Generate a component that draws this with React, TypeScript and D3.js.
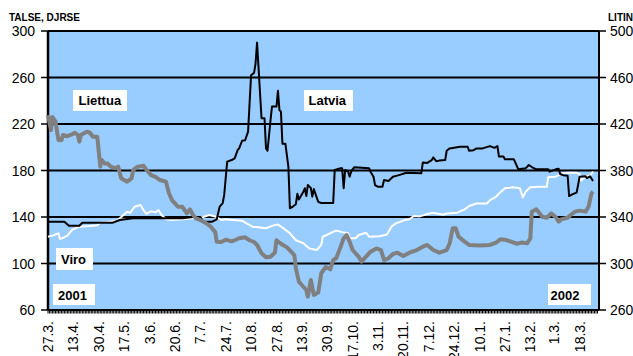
import React from "react";
import * as d3 from "d3";

const xTickLabels = ["27.3.2001","13.4.2001","30.4.2001","17.5.2001","3.6.2001","20.6.2001","7.7.2001","24.7.2001","10.8.2001","27.8.2001","13.9.2001","30.9.2001","17.10.2001","3.11.2001","20.11.2001","7.12.2001","24.12.2001","10.1.2002","27.1.2002","13.2.2002","1.3.2002","18.3.2002"];
const leftTicks = [60, 100, 140, 180, 220, 260, 300];
const rightTicks = [260, 300, 340, 380, 420, 460, 500];

// Latvia (DJRSE, left axis)
const latvia: [string, number][] = [
  ["2001-03-27",136],["2001-04-07",136],["2001-04-10",132.5],["2001-04-17",132.5],["2001-04-19",135],["2001-05-09",135],["2001-05-14",137.4],["2001-05-23",139],["2001-06-25",139],["2001-07-02",140],["2001-07-07",140],["2001-07-09",136],["2001-07-15",136],["2001-07-18",138],["2001-07-20",149],["2001-07-22",152],["2001-07-23",159],["2001-07-25",187.6],["2001-07-28",189],["2001-07-30",190.5],["2001-08-01",197.6],["2001-08-02",199],["2001-08-04",205.6],["2001-08-06",206],["2001-08-08",213.4],["2001-08-10",262],["2001-08-12",264],["2001-08-13",272],["2001-08-14",290],["2001-08-17",225],["2001-08-19",225],["2001-08-20",199],["2001-08-21",197],["2001-08-23",223],["2001-08-24",235],["2001-08-27",235],["2001-08-28",248.6],["2001-08-29",232],["2001-08-30",230.6],["2001-08-31",203],["2001-09-02",203],["2001-09-04",183],["2001-09-05",147.5],["2001-09-07",149],["2001-09-09",151],["2001-09-10",160],["2001-09-11",155],["2001-09-14",161.8],["2001-09-15",164.7],["2001-09-16",158],["2001-09-17",167.5],["2001-09-19",165],["2001-09-20",157.5],["2001-09-21",164],["2001-09-24",153],["2001-09-26",152],["2001-09-29",152],["2001-10-04",152],["2001-10-05",180.4],["2001-10-09",182],["2001-10-10",182],["2001-10-11",164.7],["2001-10-12",180.4],["2001-10-14",179],["2001-10-15",174.7],["2001-10-16",179],["2001-10-18",182.7],["2001-10-28",182],["2001-10-29",179],["2001-10-31",174.7],["2001-11-01",167.5],["2001-11-03",166],["2001-11-06",166],["2001-11-07",171.8],["2001-11-10",171],["2001-11-13",174.7],["2001-11-17",176],["2001-11-22",178],["2001-12-02",177.6],["2001-12-03",186.8],["2001-12-06",186.5],["2001-12-09",189],["2001-12-10",191.3],["2001-12-12",188],["2001-12-14",188.5],["2001-12-18",189],["2001-12-19",197],["2001-12-21",199],["2001-12-28",200.5],["2002-01-02",200.5],["2002-01-03",197],["2002-01-06",197.5],["2002-01-08",199],["2002-01-12",199],["2002-01-17",201],["2002-01-20",199.5],["2002-01-22",201],["2002-01-23",192],["2002-01-26",192],["2002-01-27",189.6],["2002-02-02",189.6],["2002-02-05",181],["2002-02-10",182],["2002-02-12",184.7],["2002-02-14",183],["2002-02-17",181],["2002-02-25",181],["2002-02-26",179],["2002-03-02",181],["2002-03-04",181.5],["2002-03-05",177],["2002-03-07",176],["2002-03-10",175.5],["2002-03-11",158],["2002-03-13",159.5],["2002-03-16",161],["2002-03-17",167.5],["2002-03-18",174.7],["2002-03-22",175],["2002-03-23",173.5],["2002-03-25",175],["2002-03-27",171]
];

// Viro (TALSE, left axis)
const viro: [string, number][] = [
  ["2001-03-27",123],["2001-03-30",124],["2001-04-03",126],["2001-04-04",121],["2001-04-06",122],["2001-04-09",124],["2001-04-12",128.8],["2001-04-14",130],["2001-04-17",131.7],["2001-04-22",132],["2001-04-29",133],["2001-05-01",135],["2001-05-05",135.5],["2001-05-12",136.8],["2001-05-15",140],["2001-05-19",144.6],["2001-05-21",143.5],["2001-05-24",148.8],["2001-05-28",150.3],["2001-05-30",145.9],["2001-06-01",142.6],["2001-06-04",145],["2001-06-07",144],["2001-06-09",146],["2001-06-11",141.7],["2001-06-14",138],["2001-06-18",137.4],["2001-06-25",138],["2001-07-02",139],["2001-07-09",140],["2001-07-13",141.7],["2001-07-18",140],["2001-07-21",137.4],["2001-07-24",138],["2001-07-29",137.4],["2001-08-04",136.8],["2001-08-07",134.6],["2001-08-11",131.7],["2001-08-16",131],["2001-08-20",130.3],["2001-08-25",132.8],["2001-08-28",133.5],["2001-09-01",130],["2001-09-05",126],["2001-09-09",120],["2001-09-14",117.4],["2001-09-18",113],["2001-09-23",111.6],["2001-09-26",116],["2001-09-27",123],["2001-10-02",126],["2001-10-06",128.3],["2001-10-10",127],["2001-10-14",126],["2001-10-15",121.7],["2001-10-19",121.7],["2001-10-21",124.5],["2001-10-26",126.5],["2001-10-28",123],["2001-11-04",123.5],["2001-11-09",125],["2001-11-12",131.7],["2001-11-15",134.5],["2001-11-21",137.4],["2001-11-24",138],["2001-11-27",140.9],["2001-12-01",140.5],["2001-12-06",142.6],["2001-12-10",143.7],["2001-12-17",142],["2001-12-19",143],["2001-12-26",143.7],["2001-12-31",146.6],["2002-01-03",149.5],["2002-01-08",151.6],["2002-01-15",151.6],["2002-01-17",154.6],["2002-01-21",157.4],["2002-01-23",160.2],["2002-01-27",164.7],["2002-02-01",165.5],["2002-02-06",164.7],["2002-02-08",156.9],["2002-02-10",162],["2002-02-13",165.6],["2002-02-19",166],["2002-02-24",166],["2002-02-25",174.2],["2002-03-02",174.7],["2002-03-04",176],["2002-03-06",177.6],["2002-03-11",178],["2002-03-16",178],["2002-03-18",177],["2002-03-19",171.3],["2002-03-22",174.7],["2002-03-25",175.5],["2002-03-27",179]
];

// Liettua (LITIN, right axis)
const liettua: [string, number][] = [
  ["2001-03-27",427.7],["2001-03-29",414.8],["2001-03-30",426],["2001-04-01",422],["2001-04-03",406.2],["2001-04-05",406],["2001-04-06",410.5],["2001-04-09",409.5],["2001-04-12",411],["2001-04-14",412.5],["2001-04-16",410.5],["2001-04-17",404.8],["2001-04-18",410.5],["2001-04-22",413.4],["2001-04-24",412.5],["2001-04-26",409],["2001-04-29",409],["2001-05-01",383.3],["2001-05-02",389],["2001-05-04",386],["2001-05-06",386],["2001-05-08",383.3],["2001-05-11",382],["2001-05-13",383.3],["2001-05-15",373.3],["2001-05-19",370.4],["2001-05-22",373.3],["2001-05-23",380.4],["2001-05-26",383.3],["2001-05-30",384],["2001-06-01",380.4],["2001-06-04",376],["2001-06-07",374.5],["2001-06-10",371.8],["2001-06-14",370.4],["2001-06-16",360.4],["2001-06-18",354.6],["2001-06-20",351.8],["2001-06-22",348.8],["2001-06-25",348.8],["2001-06-28",343.1],["2001-06-30",346.6],["2001-07-02",342],["2001-07-04",338.9],["2001-07-06",338],["2001-07-11",334.6],["2001-07-14",331.7],["2001-07-17",327],["2001-07-18",318.7],["2001-07-21",318.5],["2001-07-24",320.5],["2001-07-28",319],["2001-07-30",320],["2001-08-02",321.7],["2001-08-06",322.5],["2001-08-09",320],["2001-08-12",318.5],["2001-08-14",315.9],["2001-08-17",308.8],["2001-08-20",305.3],["2001-08-23",305.8],["2001-08-26",309.5],["2001-08-27",320],["2001-08-30",317],["2001-09-03",313.9],["2001-09-06",310],["2001-09-08",307],["2001-09-09",295.9],["2001-09-11",284.4],["2001-09-14",280],["2001-09-16",277.2],["2001-09-17",271.5],["2001-09-19",285.8],["2001-09-21",273],["2001-09-24",275],["2001-09-26",291.6],["2001-09-29",297],["2001-10-02",295],["2001-10-04",303],["2001-10-06",304.5],["2001-10-09",314.5],["2001-10-11",321.7],["2001-10-13",324.5],["2001-10-15",318.8],["2001-10-17",311.6],["2001-10-21",306],["2001-10-23",301.6],["2001-10-26",306],["2001-10-29",310.2],["2001-11-02",313],["2001-11-05",311.6],["2001-11-07",303],["2001-11-10",304.5],["2001-11-13",308.2],["2001-11-16",309.3],["2001-11-20",306.5],["2001-11-24",309.3],["2001-11-29",311.6],["2001-12-03",314.5],["2001-12-06",316],["2001-12-10",311.6],["2001-12-14",309.3],["2001-12-19",311.6],["2001-12-21",317.4],["2001-12-23",330.3],["2001-12-25",330.3],["2001-12-27",323],["2001-12-31",318.8],["2002-01-03",316],["2002-01-10",315.5],["2002-01-17",316],["2002-01-21",318],["2002-01-24",320.8],["2002-01-27",320.5],["2002-01-31",318.8],["2002-02-04",317],["2002-02-07",318],["2002-02-11",317.4],["2002-02-13",321.7],["2002-02-14",344.6],["2002-02-17",346.6],["2002-02-21",340.2],["2002-02-24",339.4],["2002-02-27",343.1],["2002-03-02",340],["2002-03-04",336],["2002-03-06",338.2],["2002-03-10",339.4],["2002-03-12",341.7],["2002-03-15",344.6],["2002-03-18",345.5],["2002-03-22",344.6],["2002-03-24",348.8],["2002-03-26",360.4],["2002-03-27",361.8]
];

const W = 633, H = 356;
const L = 48, R = 599, T = 31, B = 310;
const parse = d3.timeParse("%Y-%m-%d");
const parseTick = d3.timeParse("%d.%m.%Y");

export default function App() {
  const x = d3.scaleTime().domain([parse("2001-03-27")!, parse("2002-03-31")!]).range([L, R]);
  const yL = d3.scaleLinear().domain([60, 300]).range([B, T]);
  const yR = d3.scaleLinear().domain([260, 500]).range([B, T]);
  const lineL = d3.line<[string, number]>().x(d => x(parse(d[0])!)).y(d => yL(d[1]));
  const lineR = d3.line<[string, number]>().x(d => x(parse(d[0])!)).y(d => yR(d[1]));
  const days = d3.timeDay.range(parse("2001-03-27")!, parse("2002-03-31")!);
  const font = "Arial, 'Liberation Sans', sans-serif";

  const box = (bx: number, by: number, bw: number, bh: number, label: string, tx: number, ty: number) => (
    <g key={label}>
      <rect x={bx} y={by} width={bw} height={bh} fill="#fff" />
      <text x={tx} y={ty} fontSize={13} fontWeight="bold" fill="#000" fontFamily={font}>{label}</text>
    </g>
  );

  return (
    <svg width={W} height={H} style={{ position: "absolute", left: 0, top: 0, background: "#fff" }} fontFamily={font}>
      <rect x={L} y={T} width={R - L} height={B - T} fill="#99CCFF" />
      {leftTicks.filter(v => v > 60 && v < 300).map(v => (
        <line key={"g" + v} x1={L} x2={R} y1={yL(v)} y2={yL(v)} stroke="#000" strokeWidth={2} />
      ))}
      {/* border */}
      <line x1={L} x2={R} y1={T} y2={T} stroke="#000" strokeWidth={2} />
      <line x1={R} x2={R} y1={T} y2={B} stroke="#000" strokeWidth={2} />
      <line x1={L} x2={L} y1={T} y2={B} stroke="#000" strokeWidth={2.5} />
      {/* daily minor ticks */}
      {days.map((d, i) => (
        <line key={"d" + i} x1={x(d)} x2={x(d)} y1={B} y2={B + 3.5} stroke="#000" strokeWidth={1} />
      ))}
      <line x1={L} x2={R} y1={B} y2={B} stroke="#000" strokeWidth={2} />
      {/* left axis */}
      {leftTicks.map(v => (
        <g key={"l" + v}>
          <line x1={L - 7} x2={L} y1={yL(v)} y2={yL(v)} stroke="#000" strokeWidth={1.5} />
          <text x={L - 13} y={yL(v)} dy="0.36em" textAnchor="end" fontSize={14} fill="#000">{v}</text>
        </g>
      ))}
      {/* right axis */}
      {rightTicks.map(v => (
        <g key={"r" + v}>
          <line x1={R} x2={R + 7} y1={yR(v)} y2={yR(v)} stroke="#000" strokeWidth={1.5} />
          <text x={R + 11} y={yR(v)} dy="0.36em" textAnchor="start" fontSize={14} fill="#000">{v}</text>
        </g>
      ))}
      <text x={9} y={20.5} fontSize={10} fontWeight="bold" fill="#000">TALSE, DJRSE</text>
      <text x={608} y={20.5} fontSize={10} fontWeight="bold" fill="#000">LITIN</text>
      {/* x labels */}
      {xTickLabels.map(s => {
        const d = parseTick(s)!;
        const lbl = `${d.getDate()}.${d.getMonth() + 1}.`;
        const xx = x(d);
        return (
          <text key={s} transform={`translate(${xx},321) rotate(-90)`} dy="0.36em" textAnchor="end" fontSize={14} fill="#000">{lbl}</text>
        );
      })}
      {/* series */}
      <path d={lineL(viro)!} fill="none" stroke="#fff" strokeWidth={2} strokeLinejoin="round" />
      <path d={lineL(latvia)!} fill="none" stroke="#000" strokeWidth={2} strokeLinejoin="round" />
      <path d={lineR(liettua)!} fill="none" stroke="#808080" strokeWidth={4} strokeLinejoin="round" />
      {/* labels */}
      {box(73, 90, 54, 21, "Liettua", 78.5, 105)}
      {box(304, 90, 49, 21, "Latvia", 308.5, 105)}
      {box(56, 248, 37, 22, "Viro", 61, 264)}
      {box(53, 284, 42, 21, "2001", 58, 299.5)}
      {box(548, 284, 43, 21, "2002", 550.5, 299.5)}
    </svg>
  );
}
